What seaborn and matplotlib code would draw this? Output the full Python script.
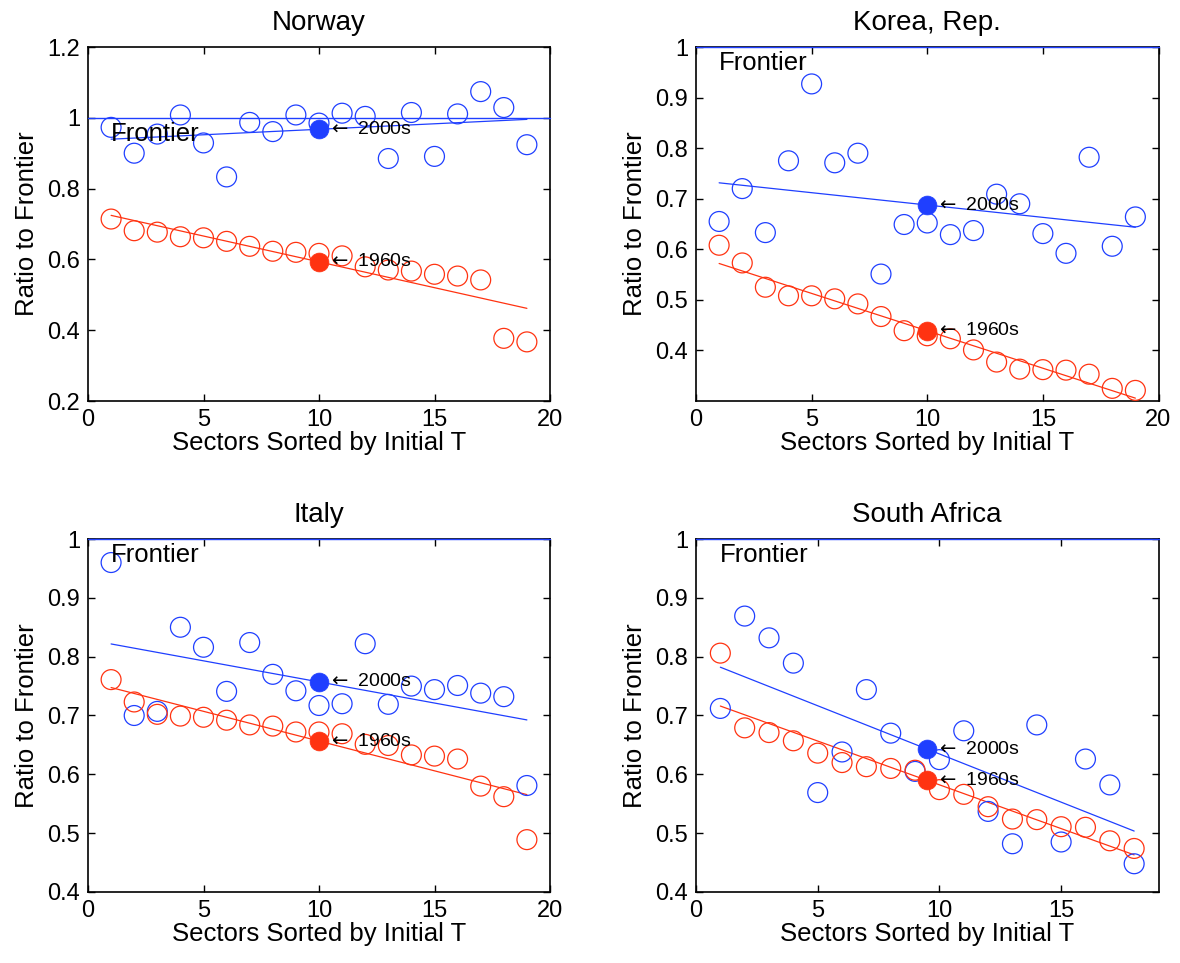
import numpy as np
import pandas as pd
import matplotlib
matplotlib.use("Agg")
import matplotlib.pyplot as plt
from matplotlib.ticker import FuncFormatter
import seaborn as sns

# ---------------- data ----------------
countries = ["Norway", "Korea, Rep.", "Italy", "South Africa"]

sectors_19 = [1, 2, 3, 4, 5, 6, 7, 8, 9, 10, 11, 12, 13, 14, 15, 16, 17, 18, 19]
sectors_18 = [1, 2, 3, 4, 5, 6, 7, 8, 9, 10, 11, 12, 13, 14, 15, 16, 17, 18]

norway_2000s = [0.973, 0.900, 0.954, 1.008, 0.929, 0.833, 0.987, 0.961, 1.008, 0.985,
                1.013, 1.004, 0.885, 1.015, 0.891, 1.011, 1.074, 1.029, 0.924]
norway_1960s = [0.714, 0.681, 0.677, 0.664, 0.661, 0.651, 0.637, 0.623, 0.620, 0.617,
                0.610, 0.579, 0.570, 0.567, 0.558, 0.553, 0.542, 0.377, 0.367]

korea_2000s = [0.655, 0.720, 0.633, 0.775, 0.927, 0.771, 0.790, 0.551, 0.649, 0.652,
               0.629, 0.637, 0.709, 0.690, 0.631, 0.592, 0.782, 0.606, 0.664]
korea_1960s = [0.608, 0.573, 0.525, 0.508, 0.508, 0.502, 0.492, 0.467, 0.439, 0.429,
               0.423, 0.401, 0.377, 0.363, 0.362, 0.361, 0.353, 0.325, 0.321]

italy_2000s = [0.960, 0.700, 0.707, 0.850, 0.816, 0.741, 0.824, 0.770, 0.742, 0.717,
               0.720, 0.822, 0.719, 0.750, 0.744, 0.751, 0.738, 0.732, 0.581]
italy_1960s = [0.761, 0.723, 0.702, 0.699, 0.697, 0.692, 0.684, 0.682, 0.672, 0.672,
               0.669, 0.651, 0.649, 0.633, 0.631, 0.626, 0.580, 0.562, 0.489]

safrica_2000s = [0.712, 0.869, 0.832, 0.789, 0.569, 0.638, 0.744, 0.670, 0.605, 0.625,
                 0.674, 0.537, 0.482, 0.684, 0.485, 0.626, 0.582, 0.448]
safrica_1960s = [0.806, 0.679, 0.671, 0.657, 0.636, 0.620, 0.613, 0.610, 0.607, 0.574,
                 0.566, 0.545, 0.524, 0.523, 0.511, 0.510, 0.487, 0.474]

frontier_level = 1.0

x_ticks = {
    "Norway": [0, 5, 10, 15, 20],
    "Korea, Rep.": [0, 5, 10, 15, 20],
    "Italy": [0, 5, 10, 15, 20],
    "South Africa": [0, 5, 10, 15],
}
x_limits = {"Norway": (0, 20), "Korea, Rep.": (0, 20), "Italy": (0, 20), "South Africa": (0, 19)}
y_ticks = {
    "Norway": [0.2, 0.4, 0.6, 0.8, 1.0, 1.2],
    "Korea, Rep.": [0.4, 0.5, 0.6, 0.7, 0.8, 0.9, 1.0],
    "Italy": [0.4, 0.5, 0.6, 0.7, 0.8, 0.9, 1.0],
    "South Africa": [0.4, 0.5, 0.6, 0.7, 0.8, 0.9, 1.0],
}
y_limits = {"Norway": (0.2, 1.2), "Korea, Rep.": (0.3, 1.0), "Italy": (0.4, 1.0), "South Africa": (0.4, 1.0)}

panel_data = {
    "Norway": (sectors_19, norway_2000s, norway_1960s),
    "Korea, Rep.": (sectors_19, korea_2000s, korea_1960s),
    "Italy": (sectors_19, italy_2000s, italy_1960s),
    "South Africa": (sectors_18, safrica_2000s, safrica_1960s),
}

# ---------------- style ----------------
sns.set_style("ticks")
plt.rcParams["font.family"] = ["Liberation Sans", "DejaVu Sans"]
plt.rcParams["axes.linewidth"] = 1.2
for k in ["text.color", "axes.labelcolor", "xtick.color", "ytick.color", "axes.edgecolor"]:
    plt.rcParams[k] = "black"

BLUE = "#1f3fff"
RED = "#ff3311"
MS = 205          # marker area (pt^2)
LW_MARK = 0.9

fig = plt.figure(figsize=(11.8, 9.63), dpi=100)
W, H = 1180, 963
# axes boxes in pixels: left, top, right, bottom
boxes = {
    "Norway": (88, 47, 550, 401),
    "Korea, Rep.": (696, 47, 1158.5, 401),
    "Italy": (88, 539, 550, 892),
    "South Africa": (696, 539, 1158.5, 892),
}

fmt = FuncFormatter(lambda v, p: f"{v:g}")

for name in countries:
    l, t, r, b = boxes[name]
    ax = fig.add_axes([l / W, 1 - b / H, (r - l) / W, (b - t) / H])
    xs, y2000, y1960 = panel_data[name]
    df = pd.DataFrame({"sector": xs, "y2000": y2000, "y1960": y1960})

    # frontier
    ax.axhline(frontier_level, color=BLUE, lw=1.0, zorder=5, clip_on=False)

    for col, c, lab in [("y2000", BLUE, "2000s"), ("y1960", RED, "1960s")]:
        sns.regplot(data=df, x="sector", y=col, scatter=False, ci=None, truncate=True,
                    color=c, line_kws={"lw": 0.9}, ax=ax)
        sns.scatterplot(data=df, x="sector", y=col, marker="o", s=MS,
                        facecolor="none", edgecolor=c, linewidth=LW_MARK, ax=ax,
                        legend=False, zorder=3)
        mx, my = df["sector"].mean(), df[col].mean()
        sns.scatterplot(x=[mx], y=[my], marker="o", s=MS * 0.9, color=c,
                        edgecolor=c, linewidth=0.5, ax=ax, legend=False, zorder=4)
        ax.annotate(r"$\leftarrow$" + " " + lab, xy=(mx, my), xytext=(9, 0),
                    textcoords="offset pixels", ha="left", va="center",
                    fontsize=14, zorder=6)

    ax.annotate("Frontier", xy=(1, frontier_level), xytext=(0, -16), textcoords="offset pixels",
                ha="left", va="center", fontsize=18.5, zorder=6)

    ax.set_xlim(*x_limits[name])
    ax.set_ylim(*y_limits[name])
    ax.set_xticks(x_ticks[name])
    ax.set_yticks(y_ticks[name])
    ax.yaxis.set_major_formatter(fmt)
    ax.xaxis.set_major_formatter(fmt)
    ax.tick_params(direction="in", top=True, right=True, length=5, width=1,
                   labelsize=17, pad=5.5, colors="black")
    for s in ax.spines.values():
        s.set_visible(True)
        s.set_color("black")
    ax.set_title(name, fontsize=20, pad=12, color="black")
    ax.set_xlabel("Sectors Sorted by Initial T", fontsize=18.5, labelpad=0, color="black")
    ax.set_ylabel("Ratio to Frontier", fontsize=18.5, color="black")
    ax.yaxis.set_label_coords(-0.105, 0.5)

fig.savefig("out.png", dpi=100)
